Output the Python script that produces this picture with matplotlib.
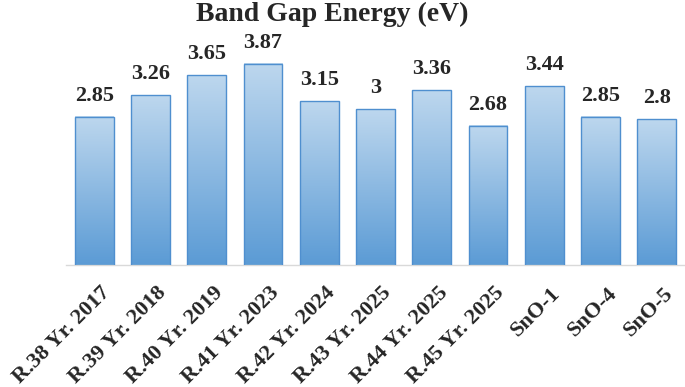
import matplotlib.pyplot as plt
import matplotlib.transforms as mtransforms
import numpy as np
from matplotlib.colors import LinearSegmentedColormap

labels = ['R.38 Yr. 2017', 'R.39 Yr. 2018', 'R.40 Yr. 2019', 'R.41 Yr. 2023',
          'R.42 Yr. 2024', 'R.43 Yr. 2025', 'R.44 Yr. 2025', 'R.45 Yr. 2025',
          'SnO-1', 'SnO-4', 'SnO-5']
values = [2.85, 3.26, 3.65, 3.87, 3.15, 3.0, 3.36, 2.68, 3.44, 2.85, 2.8]
value_text = ['2.85', '3.26', '3.65', '3.87', '3.15', '3', '3.36', '2.68', '3.44', '2.85', '2.8']

plt.rcParams['font.family'] = ['Liberation Serif', 'DejaVu Serif']

fig = plt.figure(figsize=(6.85, 3.87), dpi=100)
ax = fig.add_axes([66 / 685, 1 - 265 / 387, 1 - 66 / 685, 234 / 387])

x = np.arange(len(values))
width = 0.69
bars = ax.bar(x, values, width=width, color='none', edgecolor='#4f8fcf', linewidth=1.0, zorder=3)

cmap = LinearSegmentedColormap.from_list('grad', ['#5b9bd5', '#bdd7ee'])
grad = np.linspace(0, 1, 256).reshape(-1, 1)
for b in bars:
    x0, y0 = b.get_x(), b.get_y()
    w, h = b.get_width(), b.get_height()
    ax.imshow(grad, cmap=cmap, origin='lower', aspect='auto',
              extent=[x0, x0 + w, y0, y0 + h], zorder=2)

for xi, v, t in zip(x, values, value_text):
    ax.annotate(t, (xi, v), xytext=(0, 8), textcoords='offset points',
                ha='center', va='bottom', fontsize=16, fontweight='bold', color='#262626')

ax.set_xlim(-0.5, len(values) - 0.5)
ax.set_ylim(0, 4.5)
ax.set_yticks([])
ax.set_xticks(x)
ax.set_xticklabels(labels, rotation=45, ha='right', rotation_mode='anchor',
                   fontsize=16, fontweight='bold', color='#262626')
ax.tick_params(axis='x', length=0, pad=13)
shift = mtransforms.ScaledTranslation(6 / 100, 0, fig.dpi_scale_trans)
for lab in ax.get_xticklabels():
    lab.set_transform(lab.get_transform() + shift)
for s in ['top', 'right', 'left']:
    ax.spines[s].set_visible(False)
ax.spines['bottom'].set_color('#d9d9d9')
ax.spines['bottom'].set_linewidth(1.0)

fig.text(0.485, 0.962, 'Band Gap Energy (eV)', ha='center', va='center',
         fontsize=20, fontweight='bold', color='#262626')

fig.savefig('out.png', dpi=100)
